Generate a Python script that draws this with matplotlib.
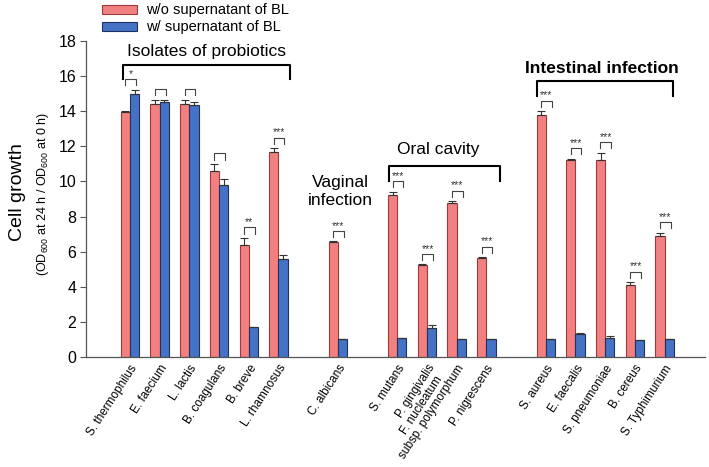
import matplotlib
matplotlib.use("Agg")
import matplotlib.pyplot as plt
from matplotlib.patches import Patch
from matplotlib.transforms import ScaledTranslation
import numpy as np

plt.rcParams['font.family'] = ['Liberation Sans', 'DejaVu Sans']
plt.rcParams['mathtext.default'] = 'regular'

# ---- data ----
groups = ["Isolates of probiotics", "Vaginal\ninfection", "Oral cavity", "Intestinal infection"]
group_sizes = [6, 1, 4, 5]
labels = ["S. thermophilus", "E. faecium", "L. lactis", "B. coagulans", "B. breve", "L. rhamnosus",
          "C. albicans",
          "S. mutans", "P. gingivalis", "F. nucleatum\nsubsp. polymorphum", "P. nigrescens",
          "S. aureus", "E. faecalis", "S. pneumoniae", "B. cereus", "S. Typhimurium"]
without_bl = [13.95, 14.40, 14.42, 10.60, 6.38, 11.70,
              6.53,
              9.24, 5.22, 8.78, 5.64,
              13.80, 11.25, 11.25, 4.10, 6.90]
without_err = [0.05, 0.25, 0.23, 0.40, 0.40, 0.20,
               0.05,
               0.17, 0.05, 0.10, 0.05,
               0.20, 0.05, 0.38, 0.15, 0.19]
with_bl = [15.00, 14.50, 14.33, 9.82, 1.70, 5.58,
           1.03,
           1.07, 1.68, 1.03, 1.03,
           1.03, 1.30, 1.10, 0.97, 1.00]
with_err = [0.23, 0.15, 0.20, 0.30, 0.02, 0.25,
            0.02,
            0.02, 0.15, 0.02, 0.02,
            0.02, 0.07, 0.08, 0.02, 0.02]
signif = ["*", "", "", "", "**", "***",
          "***",
          "***", "***", "***", "***",
          "***", "***", "***", "***", "***"]

# positions: groups separated by one empty slot
pos = []
start = 0
for n in group_sizes:
    pos.extend(range(start, start + n))
    start += n + 1
pos = np.array(pos, dtype=float)

red_face = '#F28080'
red_edge = '#9E3A3A'
blue_face = '#4472C4'
blue_edge = '#1F3360'

fig = plt.figure(figsize=(7.09, 4.67), dpi=100)
ax = fig.add_axes([86/709, 1-357/467, 619/709, (357-41)/467])

w = 0.31
ax.bar(pos - w/2, without_bl, w, color=red_face, edgecolor=red_edge, linewidth=0.8,
       yerr=[np.zeros(len(pos)), without_err], error_kw=dict(ecolor='#333333', elinewidth=0.8, capsize=3, capthick=0.8),
       label='w/o supernatant of BL', zorder=2)
ax.bar(pos + w/2, with_bl, w, color=blue_face, edgecolor=blue_edge, linewidth=0.8,
       yerr=[np.zeros(len(pos)), with_err], error_kw=dict(ecolor='#333333', elinewidth=0.8, capsize=3, capthick=0.8),
       label='w/ supernatant of BL', zorder=2)

# small significance brackets
for x, r, re_, b, be, s in zip(pos, without_bl, without_err, with_bl, with_err, signif):
    top = max(r + re_, b + be) + 0.6
    x0, x1 = x - 0.16, x + 0.2
    ax.plot([x0, x0, x1, x1], [top - 0.35, top, top, top - 0.35], color='#444444', lw=0.8, zorder=3)
    if s:
        ax.text((x0 + x1)/2, top + 0.02, s, ha='center', va='bottom', fontsize=7.5, color='#333333')

# group brackets and titles
gb = [(-0.25, 5.39, 16.65, 15.85), (8.73, 12.46, 10.88, 10.05), (13.69, 18.27, 15.7, 14.87)]
for (x0, x1, y, yl) in gb:
    ax.plot([x0, x0, x1, x1], [yl, y, y, yl], color='black', lw=1.5, zorder=3)
ax.text(2.58, 17.4, groups[0], ha='center', va='center', fontsize=12.5)
ax.text(7.07, 9.4, groups[1], ha='center', va='center', fontsize=12.5, linespacing=1.25)
ax.text(10.38, 11.83, groups[2], ha='center', va='center', fontsize=12.5)
ax.text(15.9, 16.44, groups[3], ha='center', va='center', fontsize=12.5, fontweight='bold')

ax.set_xlim(-1.48, 19.36)
ax.set_ylim(0, 18)
ax.set_yticks(np.arange(0, 19, 2))
ax.tick_params(axis='y', labelsize=11.5, length=4, width=0.8, color='#555555', pad=3)
ax.set_xticks(pos)
ax.set_xticklabels(labels, rotation=57, ha='right', rotation_mode='anchor', fontsize=8.5)
for t in ax.get_xticklabels():
    if '\n' in t.get_text():
        t.set_multialignment('center')
        t.set_va('center')
        t.set_linespacing(1.0)
        t.set_transform(t.get_transform() + ScaledTranslation(3/72, 0, fig.dpi_scale_trans))
ax.tick_params(axis='x', length=0, pad=4)
for sp in ['top', 'right']:
    ax.spines[sp].set_visible(False)
for sp in ['left', 'bottom']:
    ax.spines[sp].set_color('#555555')
    ax.spines[sp].set_linewidth(0.9)

fig.text(18/709, 1-192/467, 'Cell growth', rotation=90, ha='center', va='center', fontsize=14)
fig.text(43/709, 1-194/467, r'(OD$_{600}$ at 24 h / OD$_{600}$ at 0 h)', rotation=90,
         ha='center', va='center', fontsize=9)

handles = [Patch(facecolor=red_face, edgecolor=red_edge, linewidth=0.8),
           Patch(facecolor=blue_face, edgecolor=blue_edge, linewidth=0.8)]
fig.legend(handles, ['w/o supernatant of BL', 'w/ supernatant of BL'], loc='upper left',
           bbox_to_anchor=(96/709, 1.005), frameon=False, fontsize=10.5,
           handlelength=2.4, handleheight=0.6, labelspacing=0.2, handletextpad=0.6, borderaxespad=0)

fig.savefig('out.png', dpi=100)
